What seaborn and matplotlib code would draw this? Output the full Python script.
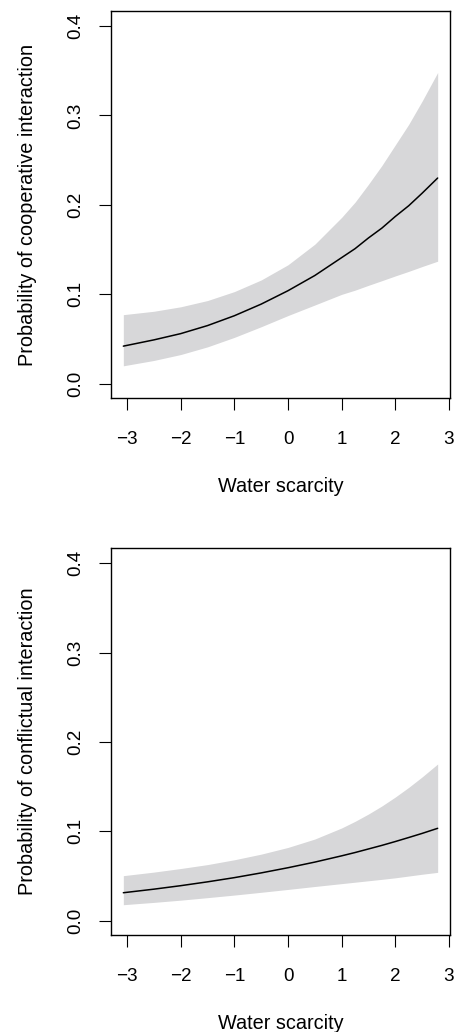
import numpy as np
import pandas as pd
import matplotlib
matplotlib.use("Agg")
import matplotlib.pyplot as plt
import seaborn as sns
from matplotlib.ticker import FormatStrFormatter

# ---- data ----
water_scarcity = [-3.07, -2.5, -2.0, -1.5, -1.0, -0.5, 0.0, 0.5, 1.0, 1.25, 1.5, 1.75, 2.0, 2.25, 2.5, 2.79]

coop_mean  = [0.042, 0.049, 0.056, 0.065, 0.076, 0.089, 0.104, 0.121, 0.141, 0.151, 0.163, 0.174, 0.187, 0.199, 0.213, 0.230]
coop_lower = [0.0200, 0.0260, 0.0326, 0.0412, 0.0518, 0.0637, 0.0762, 0.0880, 0.0999, 0.1046, 0.110, 0.1152, 0.1205, 0.1256, 0.131, 0.137]
coop_upper = [0.0772, 0.081, 0.086, 0.093, 0.103, 0.116, 0.133, 0.156, 0.186, 0.203, 0.223, 0.244, 0.267, 0.290, 0.316, 0.348]

conf_mean  = [0.0313, 0.0353, 0.0392, 0.0435, 0.0482, 0.0535, 0.0593, 0.0656, 0.0726, 0.0763, 0.0803, 0.0843, 0.0886, 0.0931, 0.0977, 0.1034]
conf_lower = [0.0179, 0.0205, 0.0230, 0.0258, 0.0287, 0.0318, 0.0350, 0.0383, 0.0415, 0.0431, 0.0447, 0.0463, 0.0480, 0.0500, 0.0520, 0.0541]
conf_upper = [0.0504, 0.0544, 0.0584, 0.0628, 0.0682, 0.0745, 0.0820, 0.0914, 0.1038, 0.1112, 0.1194, 0.1284, 0.1384, 0.1492, 0.1609, 0.1754]

x_ticks = [-3, -2, -1, 0, 1, 2, 3]
y_ticks = [0.0, 0.1, 0.2, 0.3, 0.4]
x_label = "Water scarcity"
y_labels = ["Probability of cooperative interaction",
            "Probability of conflictual interaction"]

sns.set_style("ticks")
plt.rcParams["font.family"] = ["Liberation Sans", "DejaVu Sans"]
plt.rcParams["axes.unicode_minus"] = True

df_coop = pd.DataFrame({"x": water_scarcity, "mean": coop_mean, "lo": coop_lower, "hi": coop_upper})
df_conf = pd.DataFrame({"x": water_scarcity, "mean": conf_mean, "lo": conf_lower, "hi": conf_upper})

W, H = 454, 1032
fig = plt.figure(figsize=(W / 100, H / 100), dpi=100)
fig.patch.set_facecolor("white")

def px_axes(left, right, top, bottom):
    return [left / W, 1 - bottom / H, (right - left) / W, (bottom - top) / H]

axes_specs = [
    (px_axes(111, 450, 11, 398), df_coop, y_labels[0]),
    (px_axes(111, 450, 548.3, 935), df_conf, y_labels[1]),
]

for rect, df, ylab in axes_specs:
    ax = fig.add_axes(rect)
    ax.set_facecolor("white")
    ax.fill_between(df["x"], df["lo"], df["hi"], color="#d7d7d9", linewidth=0)
    sns.lineplot(data=df, x="x", y="mean", ax=ax, color="black", linewidth=1.1, sort=True)
    ax.set_xlim(-3.30, 3.02)
    ax.set_ylim(-0.016, 0.4168)
    ax.set_xticks(x_ticks)
    ax.set_yticks(y_ticks)
    ax.yaxis.set_major_formatter(FormatStrFormatter("%.1f"))
    ax.tick_params(axis="both", direction="out", length=8.5, width=0.8, color="black",
                   labelsize=13.6, labelcolor="black")
    ax.tick_params(axis="x", pad=15.5)
    ax.tick_params(axis="y", pad=10.5)
    for lab in ax.get_yticklabels():
        lab.set_rotation(90)
        lab.set_va("center")
    for sp in ax.spines.values():
        sp.set_visible(True)
        sp.set_color("black")
        sp.set_linewidth(1.0)
    ax.set_xlabel(x_label, fontsize=14.3, color="black")
    ax.set_ylabel(ylab, fontsize=14.3, color="black")
    ax.xaxis.set_label_coords(0.5, -0.203)
    ax.yaxis.set_label_coords(-0.217, 0.5)
    ax.grid(False)

fig.savefig("out.png", dpi=100, facecolor="white")
